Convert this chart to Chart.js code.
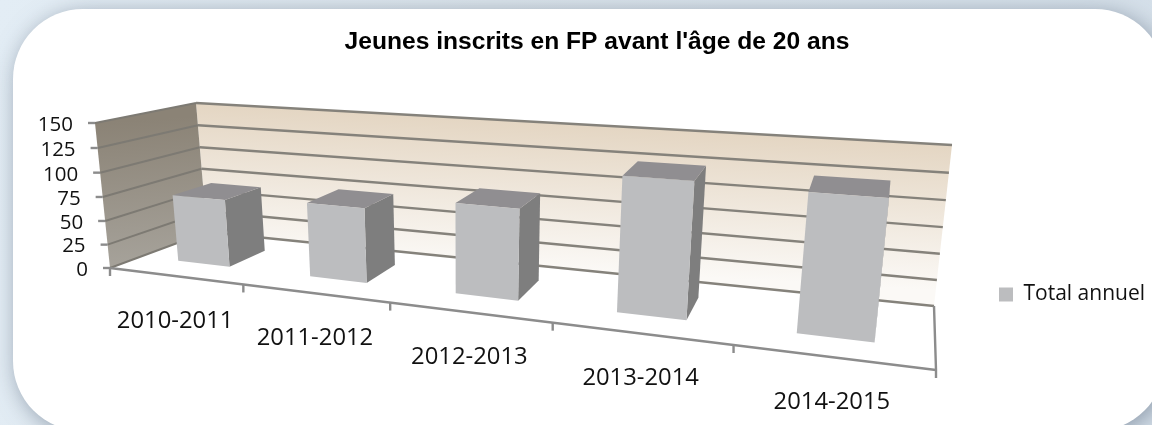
<!DOCTYPE html>
<html><head><meta charset="utf-8">
<style>
html,body{margin:0;padding:0;width:1152px;height:425px;overflow:hidden;background:linear-gradient(100deg,#e3edf5 0%,#dce5ec 40%,#d4dfe9 100%);}
#card{position:absolute;left:13px;top:9px;width:1152px;height:422px;background:#fff;border-radius:70px;box-shadow:3px 4px 22px rgba(85,100,120,.55);}
#c{position:absolute;left:0;top:0;}
</style>
<script src="https://cdn.jsdelivr.net/npm/chart.js@4"></script>
</head><body>
<div id="card"></div>
<canvas id="c" width="1152" height="425"></canvas>
<script>
const titleText = "Jeunes inscrits en FP avant l'âge de 20 ans";
const categories = ["2010-2011","2011-2012","2012-2013","2013-2014","2014-2015"];
const seriesName = "Total annuel";
const totals = [71,76,89,127,125];
const yMin = 0, yMax = 150, yStep = 25;

// perspective frame of the 3D box (screen corners)
const FL0=[110,268],FR0=[936,370],FL1=[95,123],FR1=[957,185];
const BL0=[207,232],BR0=[934,306],BL1=[196,103],BR1=[952,145];
const K=0.77, KV=0.96, ZF=0.32, ZB=0.73;
const warp=(s,k)=>s*k/(1+s*(k-1));
const lerp=(a,b,t)=>[a[0]+(b[0]-a[0])*t,a[1]+(b[1]-a[1])*t];
function proj(s,v,z){
  const t=warp(s,K), w=warp(v,KV);
  const f=lerp(lerp(FL0,FR0,t),lerp(FL1,FR1,t),w);
  const b=lerp(lerp(BL0,BR0,t),lerp(BL1,BR1,t),w);
  return lerp(f,b,z);
}
function poly(ctx,pts,fill){
  ctx.beginPath();pts.forEach((p,i)=>i?ctx.lineTo(p[0],p[1]):ctx.moveTo(p[0],p[1]));ctx.closePath();
  ctx.fillStyle=fill;ctx.fill();
}
function seg(ctx,a,b,color,w){
  ctx.beginPath();ctx.moveTo(a[0],a[1]);ctx.lineTo(b[0],b[1]);ctx.strokeStyle=color;ctx.lineWidth=w;ctx.stroke();
}
const box3d={
  id:'box3d',
  beforeDatasetsDraw(chart){
    const {ctx,chartArea:A,scales}=chart, y=scales.y, x=scales.x;
    const vOf=val=>(A.bottom-y.getPixelForValue(val))/(A.bottom-A.top);
    const sOf=px=>(px-A.left)/(A.right-A.left);
    ctx.save();
    // back wall
    const g=ctx.createLinearGradient(575,125,567,270);
    g.addColorStop(0,'#e4d6c3');g.addColorStop(1,'#fbf9f6');
    poly(ctx,[proj(0,1,1),proj(1,1,1),proj(1,0,1),proj(0,0,1)],g);
    // side wall
    const h=ctx.createLinearGradient(140,120,150,260);
    h.addColorStop(0,'#8b8376');h.addColorStop(1,'#a5a199');
    poly(ctx,[proj(0,1,0),proj(0,1,1),proj(0,0,1),proj(0,0,0)],h);
    // gridlines & value ticks
    y.ticks.forEach(tk=>{
      const v=vOf(tk.value);
      seg(ctx,proj(0,v,0),proj(0,v,1),'#7d7a73',2);
      seg(ctx,proj(0,v,1),proj(1,v,1),'#85827b',2.4);
      const p=proj(0,v,0);
      seg(ctx,p,[p[0]-7,p[1]],'#8c8c8c',2.4);
      ctx.fillStyle='#111';ctx.font='20.5px "Open Sans"';ctx.textAlign='right';ctx.textBaseline='middle';
      ctx.fillText(String(tk.value),p[0]-22,p[1]+2);
    });
    // floor edges
    seg(ctx,proj(0,0,0),proj(1,0,0),'#8c8c8c',2.4);
    seg(ctx,proj(1,0,0),proj(1,0,1),'#8c8c8c',2.4);
    // category ticks & labels
    const n=categories.length;
    for(let i=0;i<=n;i++){
      const p=proj(i/n,0,0);
      seg(ctx,p,[p[0],p[1]+8],'#8c8c8c',2.4);
    }
    x.ticks.forEach((tk,i)=>{
      const p=proj(sOf(x.getPixelForValue(tk.value)),0,0);
      ctx.fillStyle='#111';ctx.font='23.8px "Open Sans"';ctx.textAlign='center';ctx.textBaseline='middle';
      ctx.fillText(categories[i],p[0],p[1]+45);
    });
    // bars
    chart.getDatasetMeta(0).data.forEach(bar=>{
      const s0=sOf(bar.x-bar.width/2),s1=sOf(bar.x+bar.width/2);
      const v0=0,v1=(A.bottom-bar.y)/(A.bottom-A.top);
      const a=proj(s0,v1,ZF),b=proj(s1,v1,ZF),c=proj(s1,v0,ZF),d=proj(s0,v0,ZF);
      const e=proj(s0,v1,ZB),f=proj(s1,v1,ZB),k=proj(s1,v0,ZB);
      poly(ctx,[b,f,k,c],'#7e7e7e');
      poly(ctx,[a,e,f,b],'#908e91');
      poly(ctx,[a,b,c,d],'#bcbdbf');
    });
    ctx.restore();
    return false;
  }
};
new Chart(document.getElementById('c'),{
  type:'bar',
  data:{labels:categories,datasets:[{label:seriesName,data:totals,backgroundColor:'#bcbdbf',categoryPercentage:1,barPercentage:0.4}]},
  plugins:[box3d],
  options:{
    responsive:false,animation:false,
    layout:{padding:{left:39,right:-3,top:21,bottom:120}},
    scales:{
      x:{grid:{display:false},border:{display:false},ticks:{display:false}},
      y:{min:yMin,max:yMax,grid:{display:false},border:{display:false},ticks:{display:false,stepSize:yStep}}
    },
    plugins:{
      title:{display:true,text:titleText,color:'#000',font:{family:'"Liberation Sans"',size:24.6,weight:'bold'},padding:{top:6,bottom:10}},
      legend:{position:'right',align:'end',labels:{boxWidth:14,boxHeight:14,color:'#111',padding:0,font:{family:'"Open Sans"',size:21}}},
      tooltip:{enabled:false}
    }
  }
});
</script>
</body></html>
